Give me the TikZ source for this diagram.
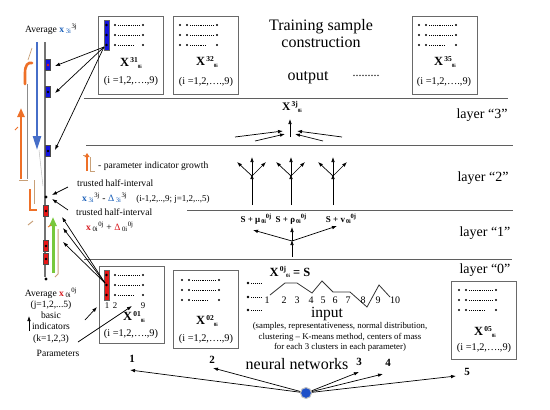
\documentclass[tikz,border=0pt]{standalone}
\usepackage{amsmath}
\usepackage{fontspec}
\setmainfont{Liberation Serif}
\usepackage{tikz}
\usetikzlibrary{arrows.meta}
\definecolor{xblue}{RGB}{25,95,185}
\definecolor{xred}{RGB}{215,25,30}
\definecolor{barblue}{RGB}{20,20,225}
\definecolor{barred}{RGB}{232,22,22}
\definecolor{lineblue}{RGB}{70,110,200}
\definecolor{orng}{RGB}{238,112,40}
\definecolor{tanline}{RGB}{200,160,120}
\definecolor{grn}{RGB}{120,200,60}
\definecolor{netblue}{RGB}{30,80,200}
\tikzstyle{mbox}=[draw={rgb,255: red,105; green,105; blue,105}, line width=0.9pt,
        minimum width=65pt, minimum height=78pt, inner sep=0pt]
\tikzstyle{sep edge}=[-, draw={rgb,255: red,95; green,95; blue,95}, line width=0.9pt]
\tikzstyle{arr edge}=[-{Latex[length=5pt,width=3.6pt]}, draw=black, line width=0.7pt]
\tikzstyle{dotline}=[draw=black, line width=0.6pt, dash pattern=on 0.6pt off 1.3pt]
\tikzstyle{note text}=[inner sep=0pt, font=\fontsize{9.6}{11.25}\selectfont]
\tikzstyle{small text}=[inner sep=0pt, font=\fontsize{8.8}{10.6}\selectfont]
\tikzstyle{title text}=[inner sep=0pt, font=\fontsize{16}{17}\selectfont]
\tikzstyle{layer text}=[inner sep=0pt, font=\fontsize{14}{16}\selectfont]
\tikzstyle{box label}=[inner sep=0pt, font=\fontsize{12.5}{14}\selectfont\bfseries]
\tikzstyle{box index}=[inner sep=0pt, font=\fontsize{10.3}{12}\selectfont]
\tikzstyle{net num}=[inner sep=0pt, font=\fontsize{11}{12}\selectfont\bfseries]
\tikzstyle{bold text}=[inner sep=0pt, font=\fontsize{9}{10}\selectfont\bfseries]
\tikzstyle{bdot}=[fill=black, circle, inner sep=0pt, minimum size=3.2pt]
\tikzstyle{brect}=[fill=barblue, draw=black!70, inner sep=0pt, minimum width=5pt, minimum height=11pt]
\tikzstyle{rrect}=[fill=barred, draw=black!70, inner sep=0pt, minimum width=5pt, minimum height=11pt]
\newcommand{\supsub}[2]{\raisebox{0.8ex}{\fontsize{7.5}{8}\selectfont\,#1}%
  \raisebox{-0.3ex}{\fontsize{5}{6}\selectfont #2}}
\newcommand{\subsup}[2]{\raisebox{-0.3ex}{\fontsize{6}{6}\selectfont\,#1}%
  \raisebox{0.9ex}{\fontsize{6.5}{7}\selectfont #2}}
\newcommand{\plainrows}[2]{%
  \foreach \r in {0,1,2}{%
    \fill ({#1},{#2+10*\r}) circle (1.2pt);
    \fill ({#1+7},{#2+10*\r}) circle (1.2pt);
    \fill ({#1+37},{#2+10*\r}) circle (1.2pt);
  }
  \draw [style=dotline] ({#1+10},{#2}) -- ({#1+34},{#2});
  \draw [style=dotline] ({#1+10},{#2+10}) -- ({#1+34},{#2+10});
  \draw [style=dotline] ({#1+10},{#2+20}) -- ({#1+27},{#2+20});
}
\newcommand{\barrows}[3]{%
  \filldraw [fill=#3, draw=black!60] ({#1-2.5},{#2-5}) rectangle ({#1+2.5},{#2+25});
  \foreach \r in {0,1,2}{%
    \fill ({#1},{#2+10*\r}) circle (1.3pt);
    \fill ({#1+8.5},{#2+10*\r}) circle (1.2pt);
    \fill ({#1+36.5},{#2+10*\r}) circle (1.2pt);
  }
  \draw [style=dotline] ({#1+11.5},{#2}) -- ({#1+33.5},{#2});
  \draw [style=dotline] ({#1+11.5},{#2+10}) -- ({#1+33.5},{#2+10});
  \draw [style=dotline] ({#1+11.5},{#2+20}) -- ({#1+27},{#2+20});
}
\begin{document}
\begin{tikzpicture}[x=1pt, y=-1pt]
  \useasboundingbox (0,0) rectangle (550,410);

  \node [style=mbox] (b31) at (130.5,55) {};
  \node [style=mbox] (b32) at (206,55) {};
  \node [style=mbox] (b35) at (444.5,55) {};
  \node [style=mbox, minimum height=77pt] (b01) at (131.5,304.5) {};
  \node [style=mbox] (b02) at (206,309.5) {};
  \node [style=mbox] (b05) at (484,320) {};

  \barrows{106.5}{25}{barblue}
  \plainrows{180}{25}
  \plainrows{419}{25}
  \barrows{106.5}{275}{barred}
  \plainrows{182}{280}
  \plainrows{459}{290}

  \node [style=box label] (x31) at (131,63) {X\supsub{31}{0i}};
  \node [style=box index] (i31) at (131,81) {(i =1,2,….,9)};
  \node [style=box label] (x32) at (207,62) {X\supsub{32}{0i}};
  \node [style=box index] (i32) at (206,82) {(i =1,2,….,9)};
  \node [style=box label] (x35) at (445,62) {X\supsub{35}{0i}};
  \node [style=box index] (i35) at (444,82) {(i =1,2,….,9)};
  \node [style=box label] (x01) at (134,317) {X\supsub{01}{0i}};
  \node [style=box index] (i01) at (131,334) {(i =1,2,….,9)};
  \node [style=box label] (x02) at (207,321) {X\supsub{02}{0i}};
  \node [style=box index] (i02) at (206,339) {(i =1,2,….,9)};
  \node [style=box label] (x05) at (485,332) {X\supsub{05}{0i}};
  \node [style=box index] (i05) at (484,348) {(i =1,2,….,9)};
  \node [style=small text] (c1) at (107,306) {1};
  \node [style=small text] (c2) at (115,306) {2};
  \node [style=small text] (c9) at (143,306) {9};

  \node [style=title text, align=center] (title) at (321,34) {Training sample\\construction};
  \node [style=title text] (out) at (308,78) {output};
  \node [style=title text, font=\fontsize{12}{12}\selectfont] (odots) at (366,76) {.........};

  \node [style=layer text] (l3) at (482,115) {layer “3”};
  \node [style=layer text] (l2) at (483,178) {layer “2”};
  \node [style=layer text] (l1) at (485,233) {layer “1”};
  \node [style=layer text] (l0) at (485,270) {layer “0”};

  \coordinate (s1a) at (84,98);  \coordinate (s1b) at (508,98);
  \coordinate (s2a) at (86,145); \coordinate (s2b) at (513,145);
  \coordinate (s3a) at (187,210); \coordinate (s3b) at (513,210);
  \coordinate (s4a) at (84,259); \coordinate (s4b) at (512,259);
  \draw [style=sep edge] (s1a) to (s1b);
  \draw [style=sep edge] (s2a) to (s2b);
  \draw [style=sep edge] (s3a) to (s3b);
  \draw [style=sep edge] (s4a) to (s4b);

  % layer 3
  \node [style=bold text, font=\fontsize{11.5}{12}\selectfont\bfseries] (x3j) at (292,107) {X\supsub{3j}{0i}};
  \coordinate (u0) at (290,137); \coordinate (u1) at (290,119);
  \coordinate (la) at (235,137); \coordinate (lb) at (283,131);
  \coordinate (lc) at (255,141); \coordinate (ld) at (285,134);
  \coordinate (ra) at (342,137); \coordinate (rb) at (297,131);
  \coordinate (rc) at (323,141); \coordinate (rd) at (295,134);
  \draw [style=arr edge] (u0) to (u1);
  \draw [style=arr edge] (la) to (lb);
  \draw [style=arr edge] (lc) to (ld);
  \draw [style=arr edge] (ra) to (rb);
  \draw [style=arr edge] (rc) to (rd);

  % layer 2
  \foreach \n/\fx in {1/252, 2/291, 3/333}{
    \coordinate (f\n) at (\fx,176);
    \coordinate (g\n) at (\fx,205);
    \coordinate (fl\n) at (\fx-15,162);
    \coordinate (fu\n) at (\fx,157);
    \coordinate (fr\n) at (\fx+14,162);
    \draw [style=arr edge] (g\n) to ([yshift=2pt]f\n);
    \draw [style=arr edge] (f\n) to (fl\n);
    \draw [style=arr edge] (f\n) to (fu\n);
    \draw [style=arr edge] (f\n) to (fr\n);
  }

  % layer 1
  \node [style=bold text] (smu) at (256,219) {S + μ\subsup{0i}{0j}};
  \node [style=bold text] (srho) at (291,219) {S + ρ\subsup{0i}{0j}};
  \node [style=bold text] (snu) at (341,219) {S + v\subsup{0i}{0j}};
  \coordinate (p1) at (292,241); \coordinate (q1) at (292,257);
  \coordinate (t1) at (253,230); \coordinate (t2) at (292,227); \coordinate (t3) at (337,226);
  \draw [style=arr edge] (q1) to ([yshift=1pt]p1);
  \draw [style=arr edge] (p1) to (t1);
  \draw [style=arr edge] (p1) to (t2);
  \draw [style=arr edge] (p1) to (t3);

  % layer 0
  \node [style=bold text, font=\fontsize{12.5}{13}\selectfont\bfseries] (x0j) at (290,272) {X\supsub{0j}{0i} = S};
  \foreach \yy in {283,297,310}{
    \fill (248,\yy) circle (1.3pt);
    \draw [style=dotline] (251,\yy) -- (262,\yy);
  }
  \draw [line width=0.8pt, black!80] (270,295) -- (285,283) -- (297,283) -- (312,293) -- (322,281)
      -- (333,292) -- (350,292) -- (367,307) -- (379,285) -- (390,297);
  \foreach \k/\kx in {1/267, 2/284, 3/297, 4/311, 5/323, 6/335, 7/348, 8/363, 9/378, 10/395}{
    \node [style=note text, font=\fontsize{10}{12}\selectfont] (z\k) at (\kx,300) {\k};
  }
  \node [style=title text, font=\fontsize{15.5}{17}\selectfont] (inp) at (327,314) {input};
  \node [style=small text, align=center] (desc) at (340,337)
      {(samples, representativeness, normal distribution,\\clustering -- K-means method, centers of mass\\for each 3 clusters in each parameter)};

  % neural networks
  \node [style=title text] (nn) at (297,364) {neural networks};
  \node [circle, fill=netblue, draw=black!25, line width=1pt, minimum size=11pt, inner sep=0pt] (hub) at (306,393) {};
  \node [style=net num] (k1) at (132,359) {1};
  \node [style=net num] (k2) at (212,360) {2};
  \node [style=net num] (k3) at (359,362) {3};
  \node [style=net num] (k4) at (388,363) {4};
  \node [style=net num] (k5) at (467,372) {5};
  \coordinate (e1) at (130,370); \coordinate (e2) at (213,368); \coordinate (e3) at (359,372);
  \coordinate (e4) at (383,374); \coordinate (e5) at (456,376);
  \draw [style=arr edge] (hub) to (e1);
  \draw [style=arr edge] (hub) to (e2);
  \draw [style=arr edge] (hub) to (e3);
  \draw [style=arr edge] (hub) to (e4);
  \draw [style=arr edge] (hub) to (e5);

  % left column
  \node [style=note text, anchor=west] (avg3) at (25,29) {Average \textcolor{xblue}{\textbf{x}\,\textsubscript{3i}}\textsuperscript{3j}};
  \coordinate (bl1) at (37,42); \coordinate (bl2) at (37,150);
  \draw [line width=2.4pt, lineblue, -{Triangle[width=8pt,length=14pt]}] (bl1) to (bl2);
  \draw [black!25, line width=0.5pt] (39,150) -- (43,186);
  \coordinate (ax1) at (45,42); \coordinate (ax2) at (45,277);
  \draw [draw=black!55, line width=1.3pt] (ax1) to (ax2);
  \node [style=brect] (r1) at (48,65) {};
  \node [style=brect] (r2) at (48,92) {};
  \node [style=brect] (r3) at (48,151) {};
  \fill [barred] (r1) circle (1.3pt);
  \fill (r2) circle (1.3pt);
  \fill (r3) circle (1.3pt);
  \node [style=bdot] (dm) at (46,197) {};
  \node [style=rrect] (q1r) at (46,211) {};
  \node [style=rrect] (q2r) at (46,246) {};
  \node [style=rrect] (q3r) at (46,259) {};
  \fill (q1r) circle (1.3pt);
  \fill (q2r) circle (1.3pt);
  \fill (q3r) circle (1.3pt);
  \node [style=bdot] (d0) at (46,279) {};

  \draw [tanline, line width=0.7pt] (32,48) -- (28,60);
  \draw [orng, line width=2.6pt, line cap=round] (25,84) -- (25,73) .. controls (25,65) and (28,62) .. (32,63);
  \draw [black!45, line width=0.6pt] (27,84) -- (27,179);
  \draw [orng, line width=2.8pt, -{Triangle[width=7pt,length=9pt]}] (21,179) -- (21,108);
  \draw [tanline, line width=1pt] (19,180) -- (28,180);
  \draw [orng, line width=0.9pt] (15,130) -- (18,127);
  \draw [tanline, line width=0.8pt] (34,180) -- (34,204);
  \draw [orng, line width=2.4pt] (30,189) -- (30,210) -- (37,210);
  \draw [tanline, line width=1pt] (28,225) -- (33,221);
  \coordinate (gr1) at (53,273); \coordinate (gr2) at (53,217);
  \draw [grn, line width=3pt, -{Triangle[width=7pt,length=9pt]}] (gr1) to (gr2);
  \draw [tanline, line width=1pt] (58,229) -- (58,274) -- (55,277);
  \draw [orng, line width=0.9pt] (48,227) -- (51,225);

  % legend and notes
  \draw [orng, line width=2.4pt, -{Triangle[width=5pt,length=4pt]}] (87,171) -- (87,153);
  \draw [tanline, line width=0.9pt] (83,155) -- (85,155);
  \draw [tanline, line width=0.9pt] (90,157) -- (90,171) -- (95,171);
  \node [style=note text, anchor=west] (leg) at (98,166) {- parameter indicator growth};
  \node [style=note text, anchor=west] (th1) at (77,183) {trusted half-interval};
  \node [style=note text, anchor=west] (fm1) at (82,198)
      {\textcolor{xblue}{\textbf{x}\,\textsubscript{3i}}\textsuperscript{3j} - \textcolor{xblue}{Δ\,\textsubscript{3i}}\textsuperscript{3j}\hspace{9pt}{\fontsize{9}{10}\selectfont(i-1,2,..,9; j=1,2,..,5)}};
  \node [style=note text, anchor=west] (th2) at (76,212) {trusted half-interval};
  \node [style=note text, anchor=west] (fm2) at (86,227)
      {\textcolor{xred}{\textbf{x}}\,\textsubscript{0i}\textsuperscript{0j} + \textcolor{xred}{Δ}\,\textsubscript{0i}\textsuperscript{0j}};
  \coordinate (h1) at (68,187); \coordinate (h2) at (68,210);
  \draw [style=arr edge] (h1) to (52,195);
  \draw [style=arr edge] (h2) to (52,199);

  \node [style=note text, align=center] (avg0) at (51,315.5)
      {Average \textcolor{xred}{\textbf{x}}\,\textsubscript{0i}\textsuperscript{0j}\\(j=1,2,...5)\\basic\\indicators\\(k=1,2,3)};
  \node [style=note text] (par) at (58,353) {Parameters};
  \coordinate (ua1) at (29,331); \coordinate (ua2) at (29,316);
  \draw [style=arr edge] (ua1) to (ua2);
  \coordinate (bi1) at (85,320); \coordinate (bi2) at (97,307);
  \draw [style=arr edge] (bi1) to (bi2);
  \coordinate (pa1) at (78,342); \coordinate (pa2) at (132,306);
  \draw [style=arr edge] (pa1) to (pa2);

  \coordinate (bs) at (104,47);
  \coordinate (m1) at (55,66); \coordinate (m2) at (55,93); \coordinate (m3) at (55,150);
  \draw [style=arr edge] (bs) to (m1);
  \draw [style=arr edge] (bs) to (m2);
  \draw [style=arr edge] (bs) to (m3);
  \coordinate (rs) at (105,283);
  \coordinate (w1) at (62,217); \coordinate (w2) at (63,228); \coordinate (w3) at (63,242);
  \draw [style=arr edge] (rs) to (w1);
  \draw [style=arr edge] (rs) to (w2);
  \draw [style=arr edge] (rs) to (w3);
\end{tikzpicture}
\end{document}
